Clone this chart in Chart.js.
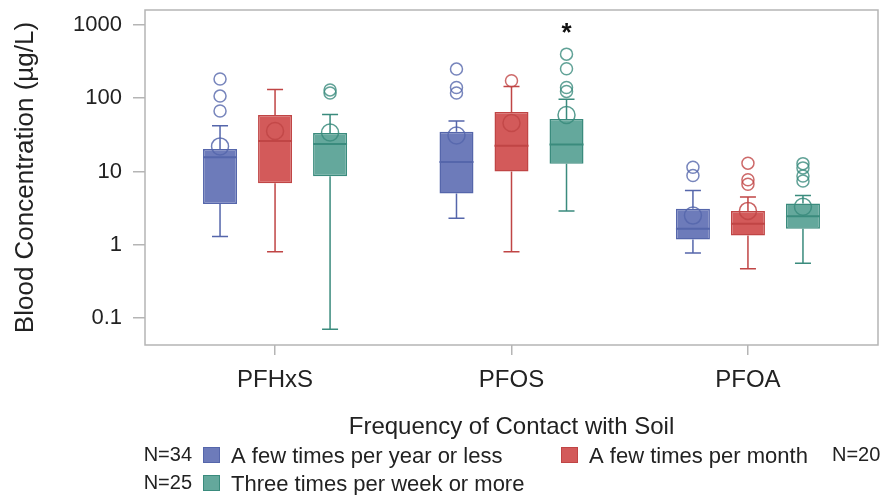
<!DOCTYPE html>
<html>
<head>
<meta charset="utf-8">
<title>Blood concentration by frequency of contact with soil</title>
<script src="https://cdn.jsdelivr.net/npm/chart.js@4.4.1/dist/chart.umd.min.js"></script>
<style>
  html, body { margin: 0; padding: 0; background: #fff; }
  canvas { display: block; }
</style>
</head>
<body>
<canvas id="boxChart" width="883" height="495"></canvas>
<script>
// compounds on the x axis
const categories = ["PFHxS", "PFOS", "PFOA"];
// contact frequency groups, legend order
const groupLabels = ["A few times per year or less", "A few times per month", "Three times per week or more"];
const groupN = ["N=34", "N=20", "N=25"];
const tickValues = [0.1, 1, 10, 100, 1000];
const yTitle = "Blood Concentration (\u00b5g/L)";
const legendTitle = "Frequency of Contact with Soil";

// box statistics (ug/L): one row per group, one column per compound
const whiskerLow = [[1.3, 2.3, 0.77], [0.8, 0.8, 0.47], [0.07, 2.9, 0.56]];
const q1 = [[3.6, 5.0, 1.18], [6.9, 10, 1.34], [8.6, 12.8, 1.65]];
const median = [[15.7, 13.5, 1.65], [26, 22.5, 1.94], [23.7, 23.4, 2.44]];
const q3 = [[20.3, 35, 3.1], [59, 65, 2.9], [33.5, 52, 3.66]];
const whiskerHigh = [[42, 49, 5.5], [132, 145, 4.5], [60, 97, 4.7]];
const mean = [[22, 31, 2.5], [35.7, 46, 2.9], [34, 59, 3.3]];
const outliers = [
  [[183, 107, 67], [250, 140, 118], [11.4, 8.8]],
  [[], [173], [13, 7.7, 6.7]],
  [[130, 118], [400, 253, 140, 124], [12.8, 11.2, 8.7, 7.4]]
];
// significance star, same layout as above
const significant = [[false, false, false], [false, false, false], [false, true, false]];

const fillColors = ["#6d7bba", "#d35a5a", "#64a89c"];
const edgeColors = ["#5566ab", "#c04545", "#3a8b7d"];
const fontFamily = '"Liberation Sans", Arial, sans-serif';
const textColor = "#222";
const frameColor = "#b5b5b5";

const datasets = groupLabels.map((label, g) => ({
  label: label,
  data: categories.map((c, i) => ({ x: i, y: [q1[g][i], q3[g][i]] })),
  backgroundColor: fillColors[g],
  borderColor: edgeColors[g],
  borderWidth: 1.5,
  borderSkipped: false,
  categoryPercentage: 0.698,
  barPercentage: 0.618
}));

// whiskers, medians, means, outliers and the legend
const boxParts = {
  id: "boxParts",
  beforeDatasetsDraw(chart) {
    const ctx = chart.ctx, y = chart.scales.y;
    ctx.save();
    ctx.lineWidth = 1.5;
    chart.data.datasets.forEach((ds, g) => {
      chart.getDatasetMeta(g).data.forEach((bar, i) => {
        const x = bar.x, cap = 8;
        const lo = y.getPixelForValue(whiskerLow[g][i]);
        const hi = y.getPixelForValue(whiskerHigh[g][i]);
        ctx.strokeStyle = edgeColors[g];
        ctx.beginPath();
        ctx.moveTo(x, y.getPixelForValue(q1[g][i])); ctx.lineTo(x, lo);
        ctx.moveTo(x, y.getPixelForValue(q3[g][i])); ctx.lineTo(x, hi);
        ctx.moveTo(x - cap, lo); ctx.lineTo(x + cap, lo);
        ctx.moveTo(x - cap, hi); ctx.lineTo(x + cap, hi);
        ctx.stroke();
      });
    });
    ctx.restore();
  },
  afterDatasetsDraw(chart) {
    const ctx = chart.ctx, y = chart.scales.y;
    ctx.save();
    chart.data.datasets.forEach((ds, g) => {
      chart.getDatasetMeta(g).data.forEach((bar, i) => {
        const x = bar.x, half = bar.width / 2;
        ctx.strokeStyle = edgeColors[g];
        // median
        ctx.lineWidth = 2;
        const ym = y.getPixelForValue(median[g][i]);
        ctx.beginPath(); ctx.moveTo(x - half, ym); ctx.lineTo(x + half, ym); ctx.stroke();
        // mean
        ctx.lineWidth = 1.5;
        ctx.globalAlpha = 0.85;
        ctx.beginPath(); ctx.arc(x, y.getPixelForValue(mean[g][i]), 8.5, 0, Math.PI * 2); ctx.stroke();
        // outliers
        ctx.globalAlpha = 0.8;
        outliers[g][i].forEach(v => {
          ctx.beginPath(); ctx.arc(x, y.getPixelForValue(v), 6, 0, Math.PI * 2); ctx.stroke();
        });
        ctx.globalAlpha = 1;
        if (significant[g][i]) {
          const top = Math.min(y.getPixelForValue(whiskerHigh[g][i]), ...outliers[g][i].map(v => y.getPixelForValue(v)));
          ctx.fillStyle = "#111";
          ctx.font = "bold 26px " + fontFamily;
          ctx.textAlign = "center";
          ctx.textBaseline = "middle";
          ctx.fillText("*", x, top - 20);
        }
      });
    });
    ctx.restore();
  },
  afterDraw(chart) {
    const ctx = chart.ctx, a = chart.chartArea;
    ctx.save();
    ctx.strokeStyle = frameColor;
    ctx.lineWidth = 1.5;
    ctx.strokeRect(a.left, a.top, a.right - a.left, a.bottom - a.top);

    ctx.fillStyle = textColor;
    ctx.textBaseline = "alphabetic";
    ctx.textAlign = "center";
    ctx.font = "24px " + fontFamily;
    ctx.fillText(legendTitle, (a.left + a.right) / 2, 434);

    // legend rows: square x, row baseline, N label x and alignment
    const items = [
      { sx: 203, base: 463, nx: 192, nAlign: "right" },
      { sx: 561, base: 463, nx: 832, nAlign: "left" },
      { sx: 203, base: 491, nx: 192, nAlign: "right" }
    ];
    items.forEach((it, g) => {
      ctx.fillStyle = fillColors[g];
      ctx.fillRect(it.sx, it.base - 16, 17, 16);
      ctx.strokeStyle = edgeColors[g];
      ctx.lineWidth = 1;
      ctx.strokeRect(it.sx + 0.5, it.base - 15.5, 16, 15);
      ctx.fillStyle = textColor;
      ctx.textAlign = "left";
      ctx.font = "22px " + fontFamily;
      ctx.fillText(groupLabels[g], it.sx + 28, it.base);
      ctx.textAlign = it.nAlign;
      ctx.font = "20px " + fontFamily;
      ctx.fillText(groupN[g], it.nx, it.base - 2);
    });
    ctx.restore();
  }
};

new Chart(document.getElementById("boxChart"), {
  type: "bar",
  data: { datasets: datasets },
  plugins: [boxParts],
  options: {
    responsive: false,
    animation: false,
    layout: { padding: { left: 0, right: 5, top: 10, bottom: 0 } },
    plugins: {
      legend: { display: false },
      tooltip: { enabled: false }
    },
    scales: {
      x: {
        type: "linear",
        min: -0.55,
        max: 2.55,
        offset: false,
        afterBuildTicks: s => { s.ticks = categories.map((c, i) => ({ value: i })); },
        afterFit: s => { s.height = 150; s.paddingLeft = 0; s.paddingRight = 0; },
        border: { display: false },
        grid: { drawOnChartArea: false, offset: false, tickLength: 10, color: frameColor, lineWidth: 1.5 },
        ticks: {
          padding: 11,
          color: textColor,
          font: { family: fontFamily, size: 24 },
          callback: v => categories[v]
        }
      },
      y: {
        type: "logarithmic",
        min: 0.0428,
        max: 1602,
        afterBuildTicks: s => { s.ticks = tickValues.map(v => ({ value: v })); },
        afterFit: s => { s.width = 145; s.paddingTop = 0; s.paddingBottom = 0; },
        border: { display: false },
        grid: { drawOnChartArea: false, tickLength: 12, color: frameColor, lineWidth: 1.5 },
        ticks: {
          padding: 11,
          color: textColor,
          font: { family: fontFamily, size: 22 },
          callback: v => String(v)
        },
        title: {
          display: true,
          text: yTitle,
          color: textColor,
          font: { family: fontFamily, size: 26 },
          padding: { top: 10, bottom: 0 }
        }
      }
    }
  }
});
</script>
</body>
</html>
